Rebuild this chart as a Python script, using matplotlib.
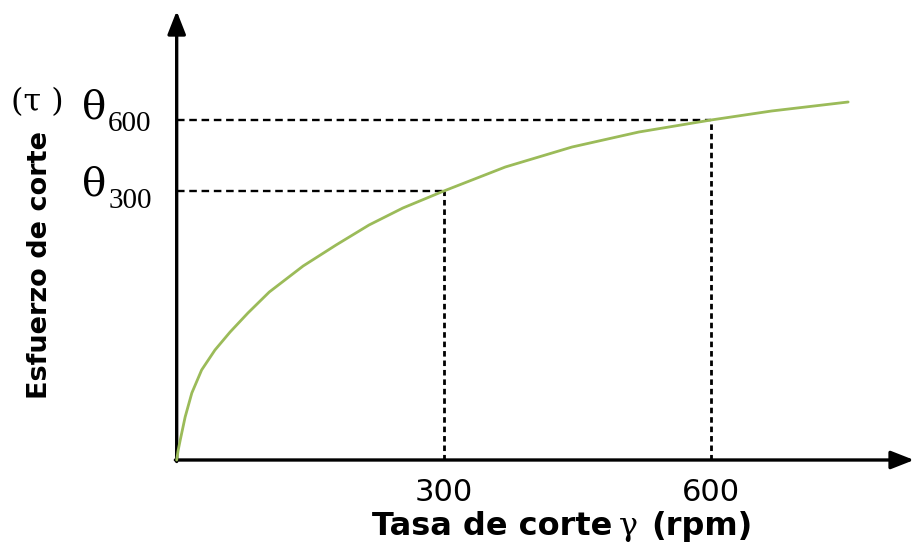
import matplotlib
matplotlib.use("Agg")
import matplotlib.pyplot as plt

# curva de flujo leida punto a punto (rpm, esfuerzo en unidades arbitrarias)
rpm = [0, 1.5, 4, 9.5, 17, 28, 43, 60, 80, 104, 142, 179, 216, 254, 300,
       369, 444, 519, 600, 668, 754]
esfuerzo = [0, 9, 20, 43, 67, 90, 110, 128, 147, 168, 194, 215, 235, 252, 269,
            293, 313, 328, 340, 349, 358]

lecturas_rpm = [300, 600]
lecturas_tau = [269, 340]
etiquetas_theta = ["300", "600"]

verde = "#9bbb59"

fig = plt.figure(figsize=(9.16, 5.46), dpi=100)
ax = fig.add_axes([0, 0, 1, 1])
ax.set_xlim(-198.4, 830.2)
ax.set_ylim(-86, 460)
ax.axis("off")

# ejes con flecha
flecha = dict(arrowstyle="-|>,head_length=1.4,head_width=0.55", color="black",
              lw=2.4, shrinkA=0, shrinkB=0)
ax.annotate("", xy=(0, 449), xytext=(0, -1.5), arrowprops=flecha)
ax.annotate("", xy=(828, 0), xytext=(-1.5, 0), arrowprops=flecha)

# lineas de lectura punteadas
for xr, yt in zip(lecturas_rpm, lecturas_tau):
    ax.plot([0, xr], [yt, yt], color="black", lw=1.7, ls=(0, (3.2, 2.0)), zorder=2)
    ax.plot([xr, xr], [0, yt], color="black", lw=2.0, ls=(0, (2.0, 1.4)), zorder=2)

ax.plot(rpm, esfuerzo, color=verde, lw=2.0, zorder=3, solid_capstyle="round",
        solid_joinstyle="round")

# etiquetas del eje x
for xr in lecturas_rpm:
    ax.text(xr, -32.5, str(xr), ha="center", va="center", fontsize=22,
            family="DejaVu Sans")

ax.text(354, -75, "Tasa de corte", ha="center", va="baseline", fontsize=23,
        fontweight="bold", family="DejaVu Sans")
ax.text(496, -75, "γ", ha="left", va="baseline", fontsize=23,
        family="DejaVu Serif")
ax.text(533, -75, "(rpm)", ha="left", va="baseline", fontsize=23,
        fontweight="bold", family="DejaVu Sans")

# etiquetas del eje y
ax.text(-153.5, 195, "Esfuerzo de corte", rotation=90, ha="center", va="center",
        fontsize=19.5, fontweight="bold", family="DejaVu Sans")
ax.text(-156, 357, "(τ )", ha="center", va="center", fontsize=23,
        family="DejaVu Serif")

theta_y = [275, 352]
sub_y = [259, 336]
for ty, sy, sub in zip(theta_y, sub_y, etiquetas_theta):
    ax.text(-92.3, ty, "θ", ha="center", va="center", fontsize=29,
            family="DejaVu Serif")
    ax.text(-77, sy, sub, ha="left", va="center", fontsize=21,
            family="Liberation Serif")

fig.savefig("out.png", dpi=100)
